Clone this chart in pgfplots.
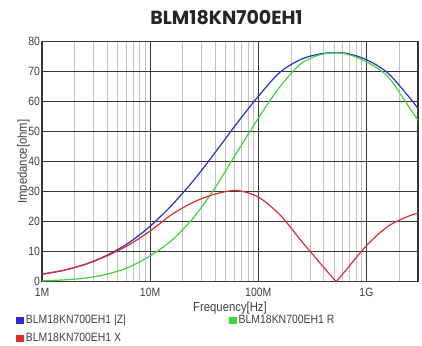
\documentclass[border=0pt]{standalone}
\usepackage{pgfplots}
\pgfplotsset{compat=1.18}
\usepackage{fontspec}
\setmainfont{Liberation Sans}[FakeStretch=0.87]
\newfontfamily\titlefont{Poppins}
\definecolor{zblue}{RGB}{45,45,210}
\definecolor{rgreen}{RGB}{60,215,60}
\definecolor{xred}{RGB}{225,45,45}
\definecolor{majgrid}{RGB}{55,55,55}
\definecolor{mingrid}{RGB}{195,195,195}
\begin{document}
\begin{tikzpicture}[x=1pt,y=1pt]
\useasboundingbox (0,0) rectangle (422,345);
\node[font=\titlefont\bfseries\fontsize{19}{21}\selectfont, text=black!85] at (226.5,327.5) {BLM18KN700EH1};
\begin{axis}[
  at={(42pt,63.3pt)}, anchor=south west,
  scale only axis, width=376pt, height=240pt,
  xmode=log, xmin=1e6, xmax=3e9, ymin=0, ymax=80,
  xtick={1e6,1e7,1e8,1e9}, xticklabels={1M,10M,100M,1G},
  minor xtick={2e6,3e6,4e6,5e6,6e6,7e6,8e6,9e6,2e7,3e7,4e7,5e7,6e7,7e7,8e7,9e7,2e8,3e8,4e8,5e8,6e8,7e8,8e8,9e8,2e9,3e9},
  ytick={0,10,20,30,40,50,60,70,80},
  grid=both,
  major grid style={majgrid, line width=1pt},
  minor grid style={mingrid, line width=0.6pt},
  axis line style={majgrid, line width=1.1pt},
  major tick length=0pt, minor tick length=0pt,
  tick label style={font=\fontsize{12}{13}\selectfont, text=black!75},
  /pgf/number format/assume math mode=true,
  yticklabel style={xshift=1.5pt},
  xticklabel style={yshift=-3pt},
  xlabel={Frequency[Hz]},
  ylabel={Impedance[ohm]},
  label style={font=\fontsize{13}{14}\selectfont, text=black!75},
  xlabel style={yshift=2pt},
  ylabel style={yshift=-8pt},
  legend columns=2,
  legend style={at={(-0.069,-0.13)}, anchor=north west, draw=none, fill=none,
    font=\fontsize{12}{13}\selectfont, text=black!75, inner sep=0pt,
    row sep=4pt,
    /tikz/column 2/.style={column sep=101pt}},
  legend cell align=left,
  legend image code/.code={\fill (0pt,-3pt) rectangle (6.5pt,3pt);},
  every axis plot/.append style={line width=1.2pt},
]
\addplot[zblue, smooth] coordinates {
(1e6,2.5) (1.585e6,3.8) (2.512e6,5.8) (3.981e6,8.8) (6.310e6,12.9) (1e7,18.5)
(1.585e7,25.5) (2.512e7,33.7) (3.981e7,43) (6.310e7,52.7) (1e8,61.8)
(1.585e8,69.8) (2.512e8,74.2) (3.981e8,76.1) (6.310e8,76.2) (1e9,74.0)
(1.585e9,69.5) (2.512e9,61.3) (3e9,57.7)
};
\addlegendentry{BLM18KN700EH1 |Z|}
\addplot[rgreen, smooth] coordinates {
(1e6,0.3) (1.585e6,0.6) (2.512e6,1.2) (3.981e6,2.5) (6.310e6,4.8) (1e7,8.6)
(1.585e7,13.8) (2.512e7,21.3) (3.981e7,31.3) (6.310e7,43) (1e8,54.5)
(1.585e8,65.0) (2.512e8,72.8) (3.981e8,75.9) (6.310e8,76.0) (1e9,73.3)
(1.585e9,68.3) (2.512e9,57.9) (3e9,53.8)
};
\addlegendentry{BLM18KN700EH1 R}
\addplot[xred, smooth] coordinates {
(1e6,2.5) (1.585e6,3.8) (2.512e6,5.8) (3.981e6,8.6) (6.310e6,12.2) (1e7,16.9)
(1.585e7,22.4) (2.512e7,26.5) (3.981e7,29.2) (6.310e7,30.4) (1e8,28.2)
(1.585e8,22.3) (2.512e8,13.5) (3.981e8,5) (5.25e8,0)
};
\addlegendentry{BLM18KN700EH1 X}
\addplot[xred, smooth, forget plot] coordinates {
(5.25e8,0) (6.310e8,3.4) (1e9,12) (1.585e9,18.5) (2.512e9,22) (3e9,22.8)
};
\end{axis}
\end{tikzpicture}
\end{document}
